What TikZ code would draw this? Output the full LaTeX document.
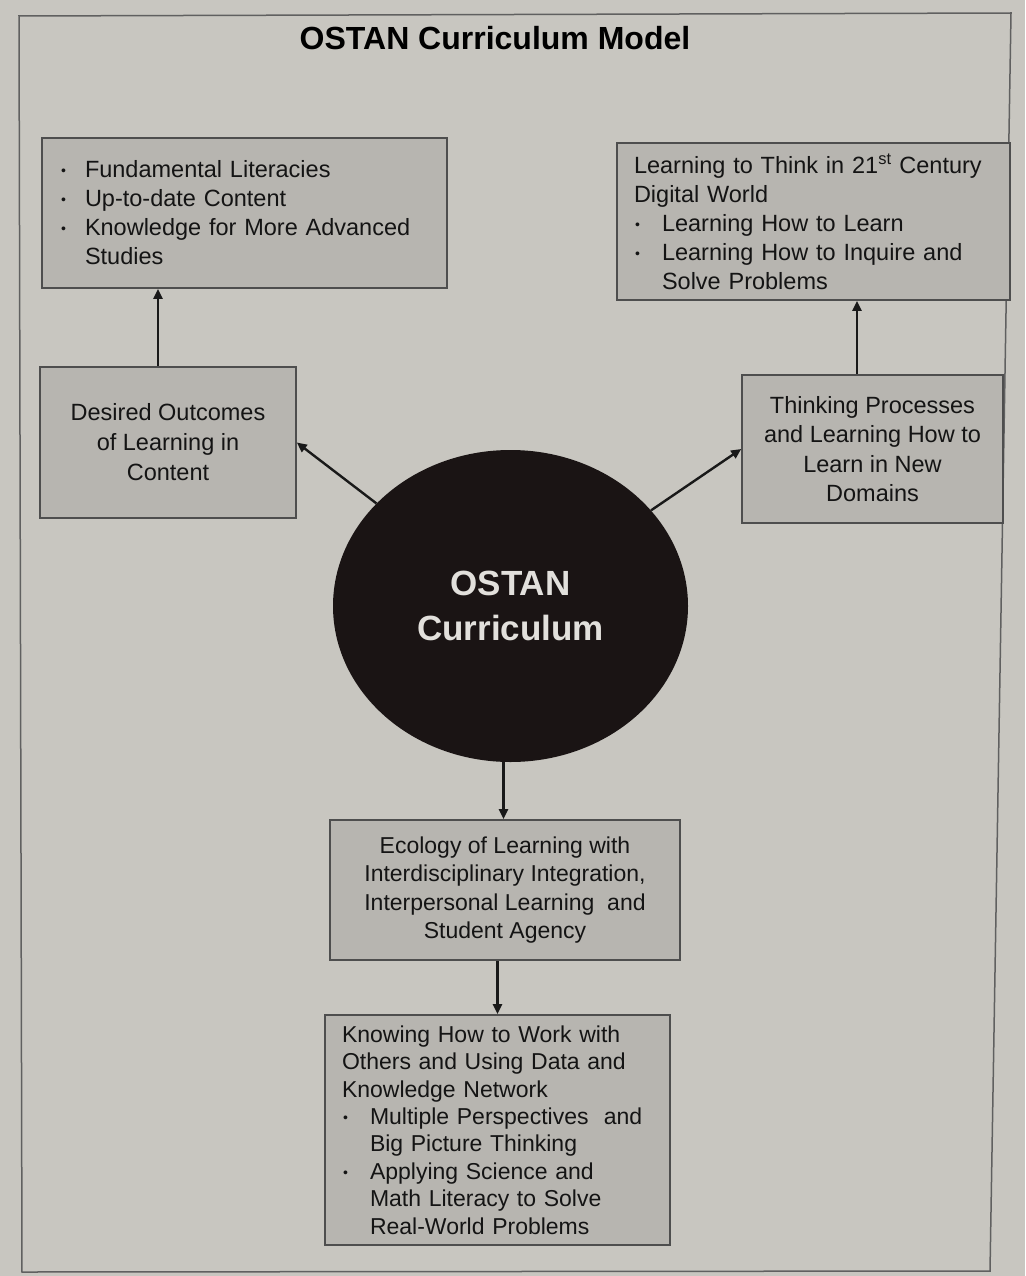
\documentclass[tikz,border=0pt]{standalone}
\usepackage{fontspec}
\setmainfont{Liberation Sans}
\usetikzlibrary{shapes.geometric,arrows.meta,calc}

\definecolor{page}{HTML}{C8C6C0}
\definecolor{boxfill}{HTML}{B7B5B0}
\definecolor{boxline}{HTML}{4E4E4E}
\definecolor{disc}{HTML}{1A1414}
\definecolor{disctext}{HTML}{E2E0DC}

% small bullet set in a box of the given width
\newcommand{\bul}[1]{\makebox[#1][l]{\hspace{1pt}\raisebox{2pt}{\fontsize{14}{14}\selectfont\textbullet}}}

\tikzset{
  box/.style={draw=boxline, line width=1.6pt, fill=boxfill, inner ysep=0pt,
    font=\fontsize{23.5}{29}\selectfont, text=black!92},
  arr/.style={line width=2.4pt, -{Triangle[length=10pt,width=9pt]}, black!90},
}

\begin{document}
\begin{tikzpicture}[x=1pt,y=-1pt]
  \useasboundingbox (0,0) rectangle (1025,1276);
  \fill[page] (0,0) rectangle (1025,1276);
  % page frame
  \draw[boxline!90, line width=1.5pt] (19,16) -- (1011,13) -- (990,1271) -- (22,1272) -- cycle;

  % title
  \node (title) at (495,38) {\fontsize{32}{38}\selectfont\bfseries OSTAN Curriculum Model};

  % boxes
  \node[box, minimum width=405pt, minimum height=150pt, inner xsep=18pt,
        text width=369pt, align=left] (content) at (244.5,213)
    {\bul{25pt}Fundamental Literacies\\
     \bul{25pt}Up-to-date Content\\
     \bul{25pt}Knowledge for More Advanced\\
     \hspace*{25pt}Studies};

  \node[box, minimum width=256pt, minimum height=151pt, align=center,
        font=\fontsize{23.5}{30}\selectfont] (outcomes) at (168,442.5)
    {Desired Outcomes\\of Learning in\\Content};

  \node[box, minimum width=393pt, minimum height=157pt, inner xsep=17pt,
        text width=359pt, align=left] (think) at (813.5,221.5)
    {Learning to Think in 21\textsuperscript{st} Century\\
     Digital World\\
     \bul{28pt}Learning How to Learn\\
     \bul{28pt}Learning How to Inquire and\\
     \hspace*{28pt}Solve Problems};

  \node[box, minimum width=261pt, minimum height=148pt, align=center,
        font=\fontsize{23.5}{29.5}\selectfont] (process) at (872.5,449)
    {Thinking Processes\\and Learning How to\\Learn in New\\Domains};

  \node[box, minimum width=350pt, minimum height=140pt, align=center,
        font=\fontsize{23}{28.3}\selectfont] (ecology) at (505,890)
    {Ecology of Learning with\\Interdisciplinary Integration,\\Interpersonal Learning\ \ and\\Student Agency};

  \node[box, minimum width=345pt, minimum height=230pt, inner xsep=17pt,
        text width=311pt, align=left, font=\fontsize{23}{27.4}\selectfont] (network) at (497.5,1130)
    {Knowing How to Work with\\
     Others and Using Data and\\
     Knowledge Network\\
     \bul{28pt}Multiple Perspectives\ \ and\\
     \hspace*{28pt}Big Picture Thinking\\
     \bul{28pt}Applying Science and\\
     \hspace*{28pt}Math Literacy to Solve\\
     \hspace*{28pt}Real-World Problems};

  % central disc
  \node[ellipse, fill=disc, minimum width=355pt, minimum height=312pt, inner sep=0pt,
        align=center, text=disctext, font=\fontsize{35}{45}\selectfont\bfseries]
        (core) at (510.5,606) {OSTAN\\Curriculum};

  % connectors
  \coordinate (outtop) at ($(outcomes.north)+(-10,0)$);
  \coordinate (proctop) at ($(process.north)+(-15.5,0)$);
  \draw[arr] (outtop) -- (outtop |- content.south);
  \draw[arr] (proctop) -- (proctop |- think.south);
  \draw[arr] (core) -- (outcomes.east);
  \draw[arr] (core) -- (process.west);
  \draw[arr] ([xshift=-7pt]core.south) -- ([xshift=-7pt]core.south |- ecology.north);
  \draw[arr] (network.north |- ecology.south) -- (network.north);
\end{tikzpicture}
\end{document}
